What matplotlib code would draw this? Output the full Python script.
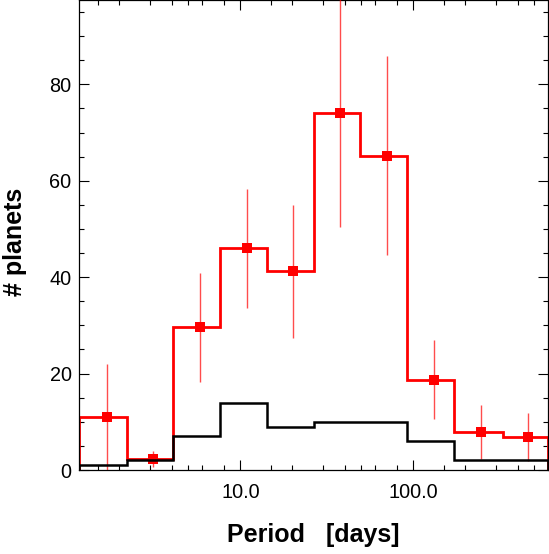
import numpy as np
import matplotlib
matplotlib.use("Agg")
import matplotlib.pyplot as plt
from matplotlib.ticker import FixedLocator, FixedFormatter, MultipleLocator

plt.rcParams['font.family'] = ['Liberation Sans', 'DejaVu Sans']

# ---- data ----
period_edges = [1.16, 2.2, 4.1, 7.6, 14.3, 26.5, 49.4, 92.0, 172.0, 330.0, 600.0]
black_counts = [1, 2, 7, 14, 9, 10, 10, 6, 2, 2]
red_counts = [10.9, 2.3, 29.6, 46.0, 41.2, 74.1, 65.2, 18.7, 7.8, 6.9]
red_err = [11.0, 1.7, 11.3, 12.3, 13.8, 23.6, 20.7, 8.2, 5.6, 5.0]
red_pts_period = [1.69, 3.14, 5.85, 10.9, 20.2, 37.8, 70.8, 131.0, 246.0, 460.0]

x_major = [10, 100]
x_major_labels = ["10.0", "100.0"]
x_minor = [1.5, 2, 3, 4, 5, 6, 8, 15, 20, 30, 40, 50, 60, 80, 150, 200, 300, 400, 500]
xlim = (1.16, 600)
ylim = (0, 97.5)

fig = plt.figure(figsize=(5.49, 5.54), dpi=100)
ax = fig.add_axes([78.5 / 549, 84 / 554, 469.5 / 549, 470 / 554])

ax.set_xscale('log')

# red histogram
ax.stairs(red_counts, period_edges, baseline=0, color='red', linewidth=2.0, zorder=2)
# error bars
ax.errorbar(red_pts_period, red_counts, yerr=red_err, fmt='none', ecolor='red',
            elinewidth=1.0, alpha=0.7, capsize=0, zorder=3)
ax.plot(red_pts_period, red_counts, 's', color='red', markersize=7,
        markeredgewidth=0, zorder=4)
# black histogram
ax.stairs(black_counts, period_edges, baseline=0, color='black', linewidth=1.8, zorder=5)

ax.set_xlim(*xlim)
ax.set_ylim(*ylim)

ax.xaxis.set_major_locator(FixedLocator(x_major))
ax.xaxis.set_major_formatter(FixedFormatter(x_major_labels))
ax.xaxis.set_minor_locator(FixedLocator(x_minor))
ax.xaxis.set_minor_formatter(FixedFormatter([""] * len(x_minor)))
ax.yaxis.set_major_locator(MultipleLocator(20))
ax.yaxis.set_minor_locator(MultipleLocator(5))

ax.tick_params(which='both', direction='in', top=True, right=True, width=0.8,
               labelsize=14.3, colors='black')
ax.tick_params(which='major', length=7)
ax.tick_params(which='minor', length=3.8)
ax.tick_params(axis='x', which='major', pad=9)
ax.tick_params(axis='y', which='major', pad=5)

for s in ax.spines.values():
    s.set_linewidth(0.9)

ax.set_xlabel("Period   [days]", fontsize=18, fontweight='bold')
ax.set_ylabel("# planets", fontsize=18, fontweight='bold')
ax.xaxis.set_label_coords(0.5, -0.112)
ax.yaxis.set_label_coords(-0.109, 0.485)

fig.savefig("out.png", dpi=100)
